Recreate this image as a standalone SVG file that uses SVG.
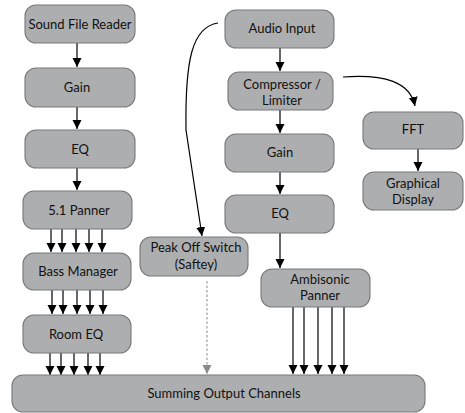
<svg xmlns="http://www.w3.org/2000/svg" width="465" height="413" viewBox="0 0 465 413">
<defs>
<style>
.n rect{fill:#adaeb0;stroke:#77787a;stroke-width:1.1}
.n text{font-family:Lato,"Open Sans",sans-serif;font-size:13px;fill:#111;text-anchor:middle}
.c path,.c line{fill:none;stroke:#000;stroke-width:1.2}
.c .d{stroke:#8a8a8a;stroke-dasharray:2.5 2;stroke-width:1}
</style>
<marker id="a" markerUnits="userSpaceOnUse" markerWidth="10" markerHeight="10" viewBox="0 0 10 10" refX="9" refY="5" orient="auto"><path d="M0,0.5 L9,5 L0,9.5 Z" fill="#000"/></marker>
<marker id="g" markerUnits="userSpaceOnUse" markerWidth="10" markerHeight="10" viewBox="0 0 10 10" refX="9" refY="5" orient="auto"><path d="M0,0.5 L9,5 L0,9.5 Z" fill="#8a8a8a"/></marker>
</defs>
<rect width="465" height="413" fill="#fff"/>
<g class="c">
<line x1="77" y1="43" x2="77" y2="67" marker-end="url(#a)"/>
<line x1="77" y1="107" x2="77" y2="129" marker-end="url(#a)"/>
<line x1="77" y1="168" x2="77" y2="190" marker-end="url(#a)"/>
<line x1="51" y1="229" x2="51" y2="252" marker-end="url(#a)"/>
<line x1="62" y1="229" x2="62" y2="252" marker-end="url(#a)"/>
<line x1="76" y1="229" x2="76" y2="252" marker-end="url(#a)"/>
<line x1="89" y1="229" x2="89" y2="252" marker-end="url(#a)"/>
<line x1="102" y1="229" x2="102" y2="252" marker-end="url(#a)"/>
<line x1="52" y1="290" x2="52" y2="314" marker-end="url(#a)"/>
<line x1="63" y1="290" x2="63" y2="314" marker-end="url(#a)"/>
<line x1="77" y1="290" x2="77" y2="314" marker-end="url(#a)"/>
<line x1="90" y1="290" x2="90" y2="314" marker-end="url(#a)"/>
<line x1="103" y1="290" x2="103" y2="314" marker-end="url(#a)"/>
<line x1="50" y1="353" x2="50" y2="375" marker-end="url(#a)"/>
<line x1="61" y1="353" x2="61" y2="375" marker-end="url(#a)"/>
<line x1="74" y1="353" x2="74" y2="375" marker-end="url(#a)"/>
<line x1="88" y1="353" x2="88" y2="375" marker-end="url(#a)"/>
<line x1="100" y1="353" x2="100" y2="375" marker-end="url(#a)"/>
<line x1="280" y1="48" x2="280" y2="71" marker-end="url(#a)"/>
<line x1="280" y1="110" x2="280" y2="133" marker-end="url(#a)"/>
<line x1="280" y1="172" x2="280" y2="194" marker-end="url(#a)"/>
<line x1="280" y1="233" x2="280" y2="268" marker-end="url(#a)"/>
<line x1="293" y1="307" x2="293" y2="374" marker-end="url(#a)"/>
<line x1="304" y1="307" x2="304" y2="374" marker-end="url(#a)"/>
<line x1="318" y1="307" x2="318" y2="374" marker-end="url(#a)"/>
<line x1="332" y1="307" x2="332" y2="374" marker-end="url(#a)"/>
<line x1="344" y1="307" x2="344" y2="374" marker-end="url(#a)"/>
<line x1="418" y1="149" x2="418" y2="171" marker-end="url(#a)"/>
<path d="M218,23 C192,27 185,60 186,130 L202,236" marker-end="url(#a)"/>
<path d="M343,77 C385,74 410,82 415,106" marker-end="url(#a)"/>
<line class="d" x1="207" y1="281" x2="207" y2="374" marker-end="url(#g)"/>
</g>
<g id="sound-file-reader" class="n"><rect x="25" y="5" width="110" height="38" rx="11"/><text x="80" y="28.5">Sound File Reader</text></g>
<g id="gain-left" class="n"><rect x="25" y="68" width="110" height="39" rx="11"/><text x="77" y="92">Gain</text></g>
<g id="eq-left" class="n"><rect x="25" y="130" width="110" height="38" rx="11"/><text x="80" y="154">EQ</text></g>
<g id="panner51" class="n"><rect x="23" y="191" width="109" height="38" rx="11"/><text x="79" y="215">5.1 Panner</text></g>
<g id="bass-manager" class="n"><rect x="23" y="253" width="108" height="37" rx="11"/><text x="78" y="276">Bass Manager</text></g>
<g id="room-eq" class="n"><rect x="23" y="315" width="108" height="38" rx="11"/><text x="76" y="339">Room EQ</text></g>
<g id="summing" class="n"><rect x="12" y="375" width="413" height="37" rx="11"/><text x="224" y="398">Summing Output Channels</text></g>
<g id="audio-input" class="n"><rect x="225" y="10" width="109" height="38" rx="11"/><text x="282" y="33">Audio Input</text></g>
<g id="compressor" class="n"><rect x="228" y="72" width="105" height="38" rx="11"/><text x="282" y="89">Compressor /</text><text x="282" y="105">Limiter</text></g>
<g id="gain-right" class="n"><rect x="225" y="134" width="109" height="38" rx="11"/><text x="280" y="157">Gain</text></g>
<g id="eq-right" class="n"><rect x="225" y="195" width="109" height="38" rx="11"/><text x="280" y="218">EQ</text></g>
<g id="ambisonic-panner" class="n"><rect x="261" y="269" width="109" height="38" rx="11"/><text x="320" y="284">Ambisonic</text><text x="320" y="300">Panner</text></g>
<g id="peak-off-switch" class="n"><rect x="140" y="237" width="108" height="39" rx="11"/><text x="196" y="252">Peak Off Switch</text><text x="196" y="269">(Saftey)</text></g>
<g id="fft" class="n"><rect x="363" y="112" width="100" height="37" rx="11"/><text x="413" y="134">FFT</text></g>
<g id="graphical-display" class="n"><rect x="363" y="172" width="100" height="38" rx="11"/><text x="413" y="188">Graphical</text><text x="413" y="204">Display</text></g>
</svg>
